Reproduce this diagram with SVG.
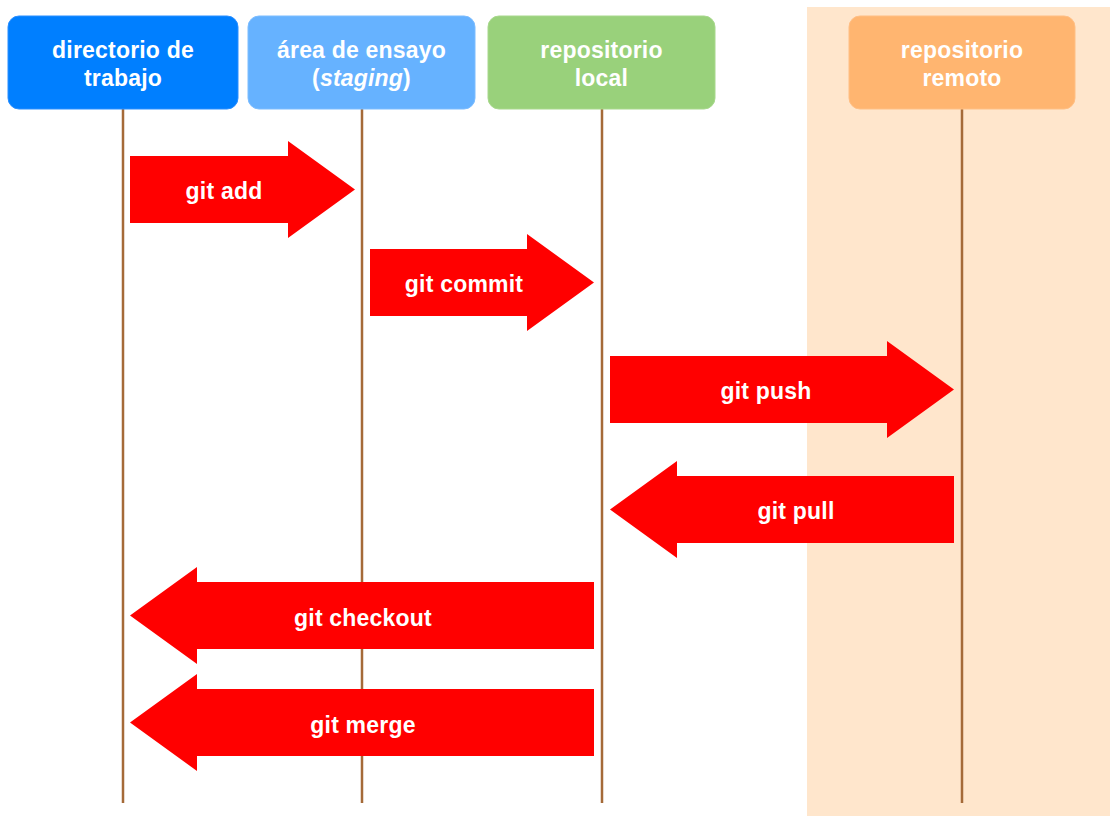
<svg xmlns="http://www.w3.org/2000/svg" width="1110" height="816" viewBox="0 0 1110 816">
  <style>
    .lane { fill: #ffe6cc; }
    .head rect { stroke-width: 1; }
    .label { font-family: "Liberation Sans", Arial, Helvetica, sans-serif; font-weight: bold; font-size: 23px; fill: #ffffff; text-anchor: middle; letter-spacing: 0.2px; }
    .life { stroke: #a56a38; stroke-width: 2.5; fill: none; }
    .arrow { fill: #ff0000; }
  </style>

  <!-- remote side background -->
  <rect class="lane" x="807" y="7" width="303" height="809"/>

  <!-- lifelines -->
  <g id="lifelines">
    <line class="life" x1="123" y1="109" x2="123" y2="803"/>
    <line class="life" x1="362" y1="109" x2="362" y2="803"/>
    <line class="life" x1="602" y1="109" x2="602" y2="803"/>
    <line class="life" x1="962" y1="109" x2="962" y2="803"/>
  </g>

  <!-- participants -->
  <g id="node-directorio" class="head">
    <rect x="8" y="16" width="230" height="93" rx="11" fill="#007fff" stroke="#2b8fff"/>
    <text class="label" x="123" y="58">directorio de</text>
    <text class="label" x="123" y="86">trabajo</text>
  </g>
  <g id="node-staging" class="head">
    <rect x="248" y="16" width="227" height="93" rx="11" fill="#66b2ff" stroke="#7dbdff"/>
    <text class="label" x="361.5" y="58">área de ensayo</text>
    <text class="label" x="361.5" y="86">(<tspan font-style="italic">staging</tspan>)</text>
  </g>
  <g id="node-local" class="head">
    <rect x="488" y="16" width="227" height="93" rx="11" fill="#99d17b" stroke="#a8d88d"/>
    <text class="label" x="601.5" y="58">repositorio</text>
    <text class="label" x="601.5" y="86">local</text>
  </g>
  <g id="node-remoto" class="head">
    <rect x="849" y="16" width="226" height="93" rx="11" fill="#ffb570" stroke="#ffbf84"/>
    <text class="label" x="962" y="58">repositorio</text>
    <text class="label" x="962" y="86">remoto</text>
  </g>

  <!-- block arrows between participants -->
  <g id="connectors">
    <g id="git-add">
      <polygon class="arrow" points="130,156 288,156 288,141 355,189.5 288,238 288,223 130,223"/>
      <text class="label" x="224" y="199">git add</text>
    </g>
    <g id="git-commit">
      <polygon class="arrow" points="370,249 527,249 527,234 594,282.5 527,331 527,316 370,316"/>
      <text class="label" x="464" y="292">git commit</text>
    </g>
    <g id="git-push">
      <polygon class="arrow" points="610,356 887,356 887,341 954,389.5 887,438 887,423 610,423"/>
      <text class="label" x="766" y="399">git push</text>
    </g>
    <g id="git-pull">
      <polygon class="arrow" points="954,476 677,476 677,461 610,509.5 677,558 677,543 954,543"/>
      <text class="label" x="796" y="519">git pull</text>
    </g>
    <g id="git-checkout">
      <polygon class="arrow" points="594,582 197,582 197,567 130,615.5 197,664 197,649 594,649"/>
      <text class="label" x="363" y="626">git checkout</text>
    </g>
    <g id="git-merge">
      <polygon class="arrow" points="594,689 197,689 197,674 130,722.5 197,771 197,756 594,756"/>
      <text class="label" x="363" y="733">git merge</text>
    </g>
  </g>
</svg>
